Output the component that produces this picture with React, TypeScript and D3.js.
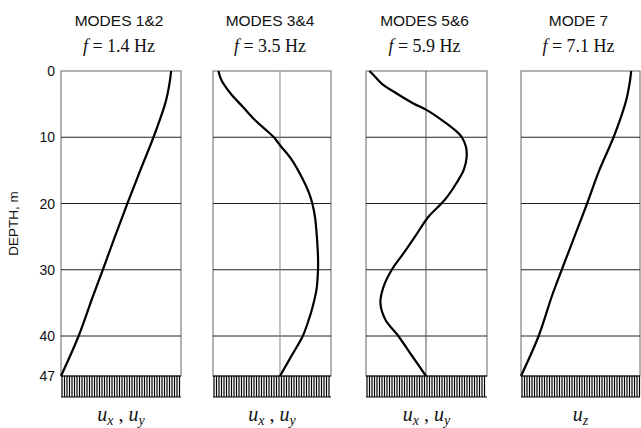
import React from "react";
import * as d3 from "d3";

// ---------- data ----------
const DEPTH_TICKS = [0, 10, 20, 30, 40, 47];
const GRID_DEPTHS = [10, 20, 30, 40];
const TITLES = ["MODES 1&2", "MODES 3&4", "MODES 5&6", "MODE 7"];
const FREQS = ["1.4", "3.5", "5.9", "7.1"];
const COMPONENTS = [["x", "y"], ["x", "y"], ["x", "y"], ["z"]];

const mode12Depth = [0, 1.4, 3.3, 5, 10, 15, 20, 25, 30, 34, 40, 47];
const mode12Amp = [1.0, 0.99, 0.97, 0.945, 0.84, 0.72, 0.603, 0.49, 0.38, 0.29, 0.16, 0];

const mode34Depth = [0, 1.4, 3.4, 5.4, 7.4, 9.2, 10, 11.2, 13.4, 16, 18.5, 20, 22, 25, 28, 30, 33, 36, 38, 40, 43.5, 47];
const mode34Amp = [-1.62, -1.54, -1.3, -0.98, -0.66, -0.31, -0.16, 0, 0.31, 0.57, 0.77, 0.85, 0.92, 0.97, 1.0, 1.0, 0.96, 0.84, 0.73, 0.6, 0.3, 0];

const mode56Depth = [0, 0.6, 1.9, 3.4, 4.9, 5.9, 7.4, 8.9, 10, 11.4, 12.9, 14.9, 16.9, 19, 20, 22, 25, 27.5, 30, 32.5, 35, 37.5, 40, 43.5, 47];
const mode56Amp = [-1.39, -1.29, -1.09, -0.72, -0.31, 0.02, 0.39, 0.71, 0.88, 0.98, 1.0, 0.93, 0.75, 0.52, 0.38, 0.06, -0.27, -0.55, -0.84, -1.04, -1.12, -1.0, -0.68, -0.34, 0];

const mode7Depth = [0, 1.4, 3.3, 5, 10, 15, 20, 25, 30, 34, 40, 47];
const mode7Amp = [1.0, 0.99, 0.97, 0.945, 0.84, 0.71, 0.6, 0.485, 0.37, 0.28, 0.16, 0];

const DEPTHS = [mode12Depth, mode34Depth, mode56Depth, mode7Depth];
const AMPS = [mode12Amp, mode34Amp, mode56Amp, mode7Amp];

// ---------- layout ----------
const W = 641;
const H = 428;
const PANEL_X: [number, number][] = [
  [61, 181],
  [213, 331],
  [366, 487],
  [521, 640],
];
const X_DOMAINS: [number, number][] = [
  [0, 1.09],
  [-1.763, 1.342],
  [-1.474, 1.499],
  [0, 1.08],
];
const SHOW_ZERO_LINE = [false, true, true, false];
const ZERO_LINE_COLOR = ["#000", "#888", "#555", "#000"];

const SANS = "'Liberation Sans', Arial, Helvetica, sans-serif";
const SERIF = "'Liberation Serif', 'Times New Roman', Times, serif";

export default function App() {
  const y = d3.scaleLinear().domain([0, 40, 47]).range([71, 336, 376]);
  const yTop = y(0);
  const yBed = y(47);
  const hatchBottom = 397;

  return (
    <svg
      width={W}
      height={H}
      viewBox={`0 0 ${W} ${H}`}
      style={{ position: "absolute", left: 0, top: 0, background: "#fff" }}
    >
      <rect x={0} y={0} width={W} height={H} fill="#fff" />
      {/* y-axis label */}
      <text
        transform={`translate(14, ${(yTop + yBed) / 2}) rotate(-90)`}
        textAnchor="middle"
        dominantBaseline="middle"
        fontFamily={SANS}
        fontSize={13.5}
        fill="#111"
      >
        DEPTH, m
      </text>
      {/* depth tick labels */}
      {DEPTH_TICKS.map((d) => (
        <text
          key={"t" + d}
          x={55}
          y={y(d)}
          textAnchor="end"
          dominantBaseline="central"
          fontFamily={SANS}
          fontSize={14}
          fill="#111"
        >
          {d}
        </text>
      ))}

      {PANEL_X.map(([x0, x1], i) => {
        const x = d3.scaleLinear().domain(X_DOMAINS[i]).range([x0, x1]);
        const line = d3
          .line<number>()
          .x((_, k) => x(AMPS[i][k]))
          .y((d) => y(d))
          .curve(d3.curveCatmullRom.alpha(0.5));
        const cx = (x0 + x1) / 2;
        const hatch = d3.range(x0 + 1, x1, 2.5);
        return (
          <g key={"p" + i}>
            {/* title */}
            <text
              x={cx - 2}
              y={26}
              textAnchor="middle"
              fontFamily={SANS}
              fontSize={15.5}
              fill="#111"
            >
              {TITLES[i]}
            </text>
            <text
              x={cx - 2}
              y={52}
              textAnchor="middle"
              fontFamily={SERIF}
              fontSize={18}
              fill="#111"
            >
              <tspan fontStyle="italic">f</tspan>
              {" = " + FREQS[i] + " Hz"}
            </text>
            {/* frame */}
            <rect
              x={x0}
              y={yTop}
              width={x1 - x0}
              height={yBed - yTop}
              fill="none"
              stroke="#666"
              strokeWidth={1}
            />
            {/* horizontal grid */}
            {GRID_DEPTHS.map((d) => (
              <line
                key={"g" + d}
                x1={x0}
                x2={x1}
                y1={y(d)}
                y2={y(d)}
                stroke="#222"
                strokeWidth={1}
              />
            ))}
            {SHOW_ZERO_LINE[i] && (
              <line
                x1={x(0)}
                x2={x(0)}
                y1={yTop}
                y2={yBed}
                stroke={ZERO_LINE_COLOR[i]}
                strokeWidth={1}
              />
            )}
            {/* bedrock hatch */}
            {hatch.map((hx, k) => (
              <line
                key={"h" + k}
                x1={hx}
                x2={hx}
                y1={yBed}
                y2={hatchBottom}
                stroke="#000"
                strokeWidth={1.2}
              />
            ))}
            <line x1={x0} x2={x1} y1={yBed} y2={yBed} stroke="#000" strokeWidth={1} />
            <line x1={x0} x2={x1} y1={hatchBottom} y2={hatchBottom} stroke="#000" strokeWidth={1} />
            {/* mode shape */}
            <path
              d={line(DEPTHS[i]) || ""}
              fill="none"
              stroke="#000"
              strokeWidth={2.2}
              strokeLinejoin="round"
            />
            {/* component label */}
            <text
              x={cx}
              y={421}
              textAnchor="middle"
              fontFamily={SERIF}
              fontSize={20}
              fontStyle="italic"
              fill="#111"
            >
              {COMPONENTS[i].map((c, k) => (
                <React.Fragment key={c}>
                  {k > 0 && (
                    <tspan fontStyle="normal" dy={-4}>
                      {" , "}
                    </tspan>
                  )}
                  <tspan>u</tspan>
                  <tspan fontSize={14} dy={4}>
                    {c}
                  </tspan>
                </React.Fragment>
              ))}
            </text>
          </g>
        );
      })}
    </svg>
  );
}
